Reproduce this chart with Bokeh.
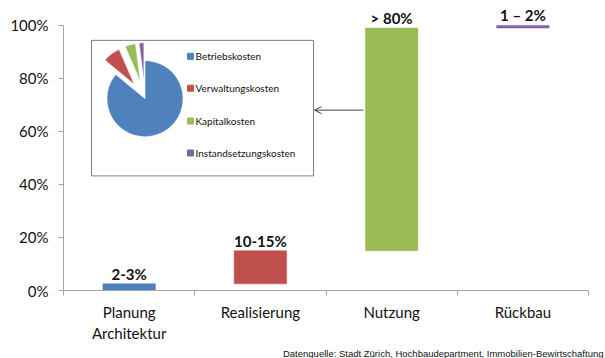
import numpy as np
from bokeh.plotting import figure
from bokeh.models import Range1d, FixedTicker, Arrow, OpenHead, Title
from bokeh.core.properties import value
from bokeh.embed import file_html
from bokeh.resources import INLINE

# ---------------- data ----------------
phases = ["Planung\nArchitektur", "Realisierung", "Nutzung", "Rückbau"]
bar_start = [0, 2.5, 15, 99]
bar_end = [2.5, 15, 99, 100]
bar_labels = ["2-3%", "10-15%", "> 80%", "1 – 2%"]
bar_colors = ["#4F81BD", "#C0504D", "#9BBB59", "#8064A2"]
y_ticks = [0, 20, 40, 60, 80, 100]

pie_names = ["Betriebskosten", "Verwaltungskosten", "Kapitalkosten", "Instandsetzungskosten"]
pie_values = [86, 7.5, 4.5, 2]
pie_exploded = [False, True, True, True]
pie_colors = ["#4F81BD", "#C0504D", "#9BBB59", "#8064A2"]

source_note = "Datenquelle: Stadt Zürich, Hochbaudepartment, Immobilien-Bewirtschaftung"

# ---------------- layout ----------------
W, H = 605, 358
B_LEFT, B_RIGHT, B_TOP, B_BOTTOM = 63, 17, 4, 67
FW = W - B_LEFT - B_RIGHT
FH = H - B_TOP - B_BOTTOM
PX_PER_PCT = 2.66
Y_END = FH / PX_PER_PCT
X_END = len(phases)
SX = FW / X_END
SY = PX_PER_PCT
Y0 = H - B_BOTTOM

def dx(px):
    return (px - B_LEFT) / SX

def dy(py):
    return (Y0 - py) / SY

FONT = "Lato"

p = figure(width=W, height=H, output_backend="svg", toolbar_location=None,
           x_range=Range1d(0, X_END), y_range=Range1d(0, Y_END),
           min_border_left=B_LEFT, min_border_right=B_RIGHT,
           min_border_top=B_TOP, min_border_bottom=B_BOTTOM)
p.outline_line_color = None
p.xgrid.visible = False
p.ygrid.visible = False
p.background_fill_color = "white"
p.border_fill_color = "white"

axis_col = "#a6a6a6"

# x axis
centers = [i + 0.5 for i in range(len(phases))]
p.xaxis.ticker = FixedTicker(ticks=centers, minor_ticks=list(range(len(phases) + 1)))
p.xaxis.major_label_overrides = {c: lab for c, lab in zip(centers, phases)}
p.xaxis.major_tick_line_color = None
p.xaxis.major_tick_out = 0
p.xaxis.major_tick_in = 0
p.xaxis.minor_tick_out = 5
p.xaxis.minor_tick_in = 0
p.xaxis.minor_tick_line_color = axis_col
p.xaxis.axis_line_color = axis_col
p.xaxis.major_label_standoff = 7
p.xaxis.major_label_text_font = FONT
p.xaxis.major_label_text_font_size = "15px"
p.xaxis.major_label_text_color = "#111111"

# y axis
p.yaxis.ticker = FixedTicker(ticks=y_ticks, minor_ticks=[])
p.yaxis.major_label_overrides = {t: f"{t}%" for t in y_ticks}
p.yaxis.bounds = (0, 100)
p.yaxis.axis_line_color = axis_col
p.yaxis.major_tick_line_color = axis_col
p.yaxis.major_tick_out = 5
p.yaxis.major_tick_in = 0
p.yaxis.minor_tick_line_color = None
p.yaxis.major_label_standoff = 10
p.yaxis.major_label_text_font = FONT
p.yaxis.major_label_text_font_size = "15px"
p.yaxis.major_label_text_color = "#111111"

# waterfall bars
bw = 0.4
p.quad(left=[c - bw / 2 for c in centers], right=[c + bw / 2 for c in centers],
       bottom=bar_start, top=bar_end, fill_color=bar_colors, line_color=bar_colors,
       line_width=0.5)
p.text(x=centers, y=bar_end, text=bar_labels, text_align="center",
       text_baseline="bottom", y_offset=-1, text_font=value(FONT),
       text_font_style="bold", text_font_size="15px", text_color="#111111")

# inset box
p.quad(left=[dx(91)], right=[dx(313)], top=[dy(40)], bottom=[dy(176)],
       fill_color="white", line_color="#7f7f7f", line_width=1)

# pie (Excel style: first slice starts at 12 o'clock, clockwise)
vals = np.array(pie_values, dtype=float)
frac = vals / vals.sum()
cum = np.concatenate([[0], np.cumsum(frac)])
start_cw = np.pi / 2 - 2 * np.pi * cum[:-1]
end_cw = np.pi / 2 - 2 * np.pi * cum[1:]
mid = (start_cw + end_cw) / 2
cx_px, cy_px, r_px, explode_px = 144.5, 98.5, 38, 18
px_x = [cx_px + (explode_px * np.cos(m) if e else 0) for m, e in zip(mid, pie_exploded)]
px_y = [cy_px - (explode_px * np.sin(m) if e else 0) for m, e in zip(mid, pie_exploded)]
p.wedge(x=[dx(v) for v in px_x], y=[dy(v) for v in px_y], radius=r_px,
        radius_units="screen", start_angle=list(end_cw), end_angle=list(start_cw),
        direction="anticlock", fill_color=pie_colors, line_color="white", line_width=0.5)

# inset legend
rows_px = [56, 88, 121, 153]
p.scatter(x=[dx(190)] * 4, y=[dy(r) for r in rows_px], marker="square", size=6,
          fill_color=pie_colors, line_color=pie_colors)
p.text(x=[dx(195)] * 4, y=[dy(r) for r in rows_px], text=pie_names,
       text_align="left", text_baseline="middle", text_font=value(FONT),
       text_font_size="10px", text_color="#111111")

# arrow from Nutzung bar to inset
p.add_layout(Arrow(end=OpenHead(size=7, line_width=1, line_color="#404040"),
                   x_start=centers[2] - bw / 2 - 2 / SX, y_start=dy(110),
                   x_end=dx(314), y_end=dy(110), line_color="#404040", line_width=1))

# source note
p.add_layout(Title(text=source_note, align="right", standoff=0, offset=-15,
                   text_font="Liberation Sans", text_font_size="9.5px",
                   text_font_style="normal", text_color="#111111"), "below")

open("out.html", "w").write(file_html(p, INLINE))
